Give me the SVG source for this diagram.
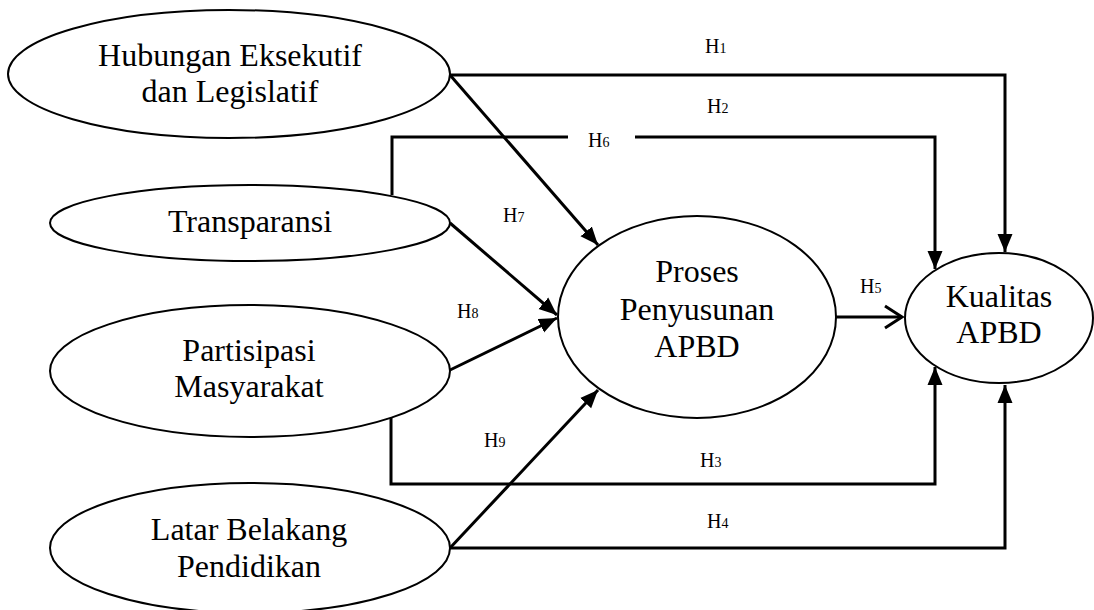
<svg xmlns="http://www.w3.org/2000/svg" width="1094" height="610" viewBox="0 0 1094 610">
<style>
.node ellipse{fill:#fff;stroke:#000;stroke-width:2}
.node text{font-family:"Liberation Serif","Times New Roman",serif;font-size:32px;fill:#000;text-anchor:middle}
.edge{fill:none;stroke:#000;stroke-width:3}
.lbl{font-family:"Liberation Serif","Times New Roman",serif;font-size:20px;fill:#000}
.lbl tspan{font-size:14px}
</style>
<defs>
<marker id="ah" markerUnits="userSpaceOnUse" markerWidth="20" markerHeight="16" viewBox="0 -8 20 16" refX="18" refY="0" orient="auto">
<path d="M0,-7.5 L18,0 L0,7.5 z" fill="#000"/>
</marker>
</defs>
<rect width="1094" height="610" fill="#fff"/>
<g id="connectors">
<path class="edge" d="M450,75 H1005 V252" marker-end="url(#ah)"/>
<path class="edge" d="M450,75 L598,245" marker-end="url(#ah)"/>
<path class="edge" d="M392,195 V137 H568"/>
<path class="edge" d="M635,137 H935 V269" marker-end="url(#ah)"/>
<path class="edge" d="M450,223 L557,315" marker-end="url(#ah)"/>
<path class="edge" d="M450,370 L557,318" marker-end="url(#ah)"/>
<path class="edge" d="M450,548 L598,390" marker-end="url(#ah)"/>
<path class="edge" d="M391,418 V484 H935 V367" marker-end="url(#ah)"/>
<path class="edge" d="M450,548 H1005 V385" marker-end="url(#ah)"/>
<path class="edge" d="M835,317 H902"/>
<path class="edge" d="M885,306 L902,317 L885,328"/>
</g>
<g id="labels">
<text class="lbl" x="705" y="53">H<tspan>1</tspan></text>
<text class="lbl" x="707" y="113">H<tspan>2</tspan></text>
<text class="lbl" x="588" y="147">H<tspan>6</tspan></text>
<text class="lbl" x="503" y="222">H<tspan>7</tspan></text>
<text class="lbl" x="457" y="318">H<tspan>8</tspan></text>
<text class="lbl" x="484" y="447">H<tspan>9</tspan></text>
<text class="lbl" x="700" y="467">H<tspan>3</tspan></text>
<text class="lbl" x="707" y="528">H<tspan>4</tspan></text>
<text class="lbl" x="860" y="293">H<tspan>5</tspan></text>
</g>
<g id="node-hubungan" class="node">
<ellipse cx="229" cy="74" rx="221" ry="64"/>
<text x="230" y="66">Hubungan Eksekutif</text>
<text x="230" y="102">dan Legislatif</text>
</g>
<g id="node-transparansi" class="node">
<ellipse cx="250" cy="223" rx="200" ry="38"/>
<text x="250" y="232">Transparansi</text>
</g>
<g id="node-partisipasi" class="node">
<ellipse cx="250" cy="371" rx="200" ry="66"/>
<text x="249" y="361">Partisipasi</text>
<text x="249" y="397">Masyarakat</text>
</g>
<g id="node-latar" class="node">
<ellipse cx="250" cy="548" rx="200" ry="65"/>
<text x="249" y="540">Latar Belakang</text>
<text x="249" y="577">Pendidikan</text>
</g>
<g id="node-proses" class="node">
<ellipse cx="697" cy="317" rx="139" ry="101"/>
<text x="697" y="282">Proses</text>
<text x="697" y="320">Penyusunan</text>
<text x="697" y="357">APBD</text>
</g>
<g id="node-kualitas" class="node">
<ellipse cx="999" cy="318" rx="94" ry="65"/>
<text x="999" y="307">Kualitas</text>
<text x="999" y="343">APBD</text>
</g>
</svg>
